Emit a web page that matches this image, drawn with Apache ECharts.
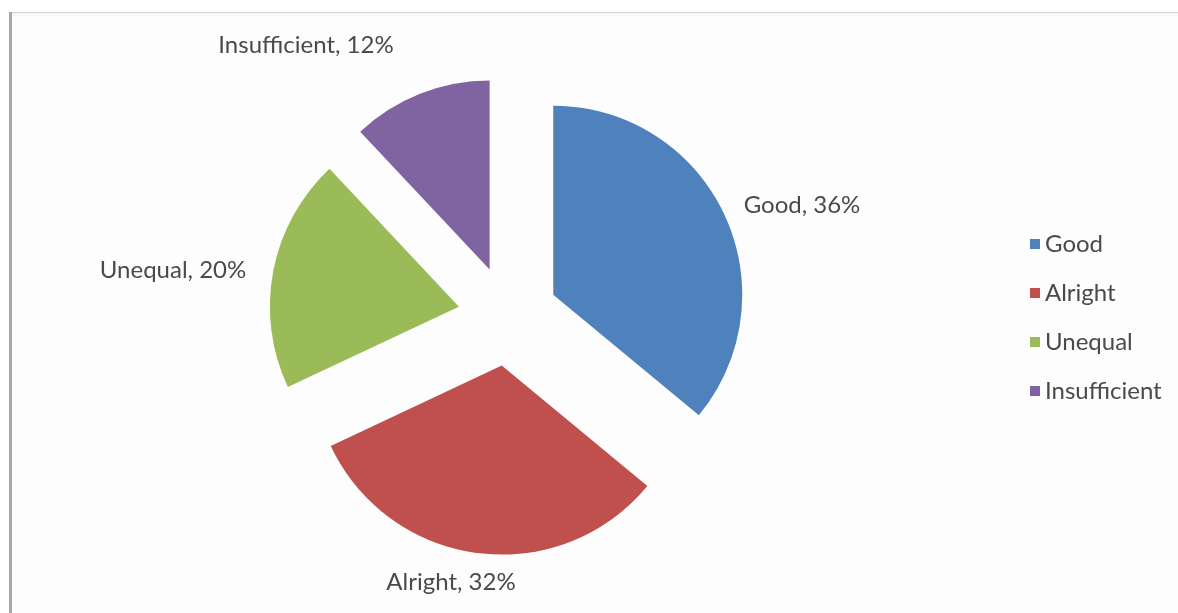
<!DOCTYPE html>
<html>
<head>
<meta charset="utf-8">
<script src="https://cdn.jsdelivr.net/npm/echarts@6/dist/echarts.min.js"></script>
<style>
  html, body { margin: 0; padding: 0; background: #ffffff; }
  #chart { width: 1178px; height: 613px; }
</style>
</head>
<body>
<div id="chart"></div>
<script>
// Survey answers and their shares (percent)
const categories = ['Good', 'Alright', 'Unequal', 'Insufficient'];
const shares = [36, 32, 20, 12];
const colors = ['#4F81BD', '#C0504D', '#9BBB59', '#8064A2'];

// Centres of the slice captions (px)
const labelSpots = [[802, 205], [451, 582], [173, 270], [306, 45]];

const FONT = 'Lato, "Open Sans", sans-serif';
const TEXT = '#4a4a4a';
const FONT_SIZE = 24;

const chart = echarts.init(document.getElementById('chart'), null, { renderer: 'canvas' });

// Frame: light rule along the top, darker rule down the left side
const frame = [
  { type: 'rect', shape: { x: 12, y: 12, width: 1166, height: 1 }, style: { fill: '#d2d2d2' }, silent: true },
  { type: 'rect', shape: { x: 12, y: 13, width: 1166, height: 3 }, style: { fill: '#f6f6f6' }, silent: true },
  { type: 'rect', shape: { x: 9, y: 12, width: 3, height: 601 }, style: { fill: '#a8a8a8' }, silent: true },
  { type: 'rect', shape: { x: 0, y: 0, width: 1178, height: 12 }, style: { fill: '#ffffff' }, silent: true },
  { type: 'rect', shape: { x: 0, y: 0, width: 9, height: 613 }, style: { fill: '#ffffff' }, silent: true }
];

// Slice captions: "Name, value%"
const captions = categories.map((name, i) => ({
  type: 'text',
  x: labelSpots[i][0],
  y: labelSpots[i][1],
  silent: true,
  z: 10,
  style: {
    text: name + ', ' + shares[i] + '%',
    fontFamily: FONT,
    fontSize: FONT_SIZE,
    fill: TEXT,
    align: 'center',
    verticalAlign: 'middle'
  }
}));

chart.setOption({
  animation: false,
  backgroundColor: '#fdfdfd',
  color: colors,
  graphic: frame.concat(captions),
  legend: {
    orient: 'vertical',
    left: 1025,
    top: 227,
    icon: 'rect',
    itemWidth: 10,
    itemHeight: 10,
    itemGap: 25,
    selectedMode: false,
    textStyle: { fontFamily: FONT, fontSize: FONT_SIZE, lineHeight: 24, color: TEXT, padding: [0, 0, 0, 0] },
    data: categories
  },
  series: [{
    type: 'pie',
    center: [508, 316],
    radius: 189,
    startAngle: 90,
    clockwise: true,
    selectedMode: 'multiple',
    selectedOffset: 50,
    emphasis: { disabled: true },
    itemStyle: { borderWidth: 0 },
    label: { show: false },
    labelLine: { show: false },
    data: categories.map((name, i) => ({ name, value: shares[i], selected: true }))
  }]
});
</script>
</body>
</html>
